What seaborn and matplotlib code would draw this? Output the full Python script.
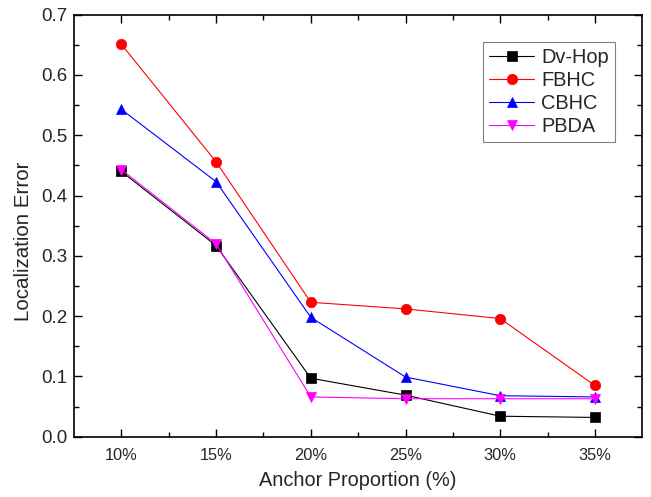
import matplotlib
matplotlib.use("Agg")
import matplotlib.pyplot as plt
import seaborn as sns
import pandas as pd
from matplotlib.ticker import MultipleLocator, FixedLocator

proportions = [10, 15, 20, 25, 30, 35]
tick_labels = ["10%", "15%", "20%", "25%", "30%", "35%"]
dv_hop = [0.440, 0.317, 0.097, 0.069, 0.034, 0.032]
fbhc = [0.651, 0.456, 0.223, 0.212, 0.196, 0.085]
cbhc = [0.543, 0.423, 0.198, 0.099, 0.068, 0.066]
pbda = [0.443, 0.320, 0.066, 0.063, 0.063, 0.063]

series = [("Dv-Hop", dv_hop, "black", "s"),
          ("FBHC", fbhc, "red", "o"),
          ("CBHC", cbhc, "blue", "^"),
          ("PBDA", pbda, "magenta", "v")]

sns.set_style("white")
plt.rcParams['font.family'] = ['Liberation Sans', 'DejaVu Sans']

fig = plt.figure(figsize=(6.51, 4.97), dpi=100)
ax = fig.add_axes([0.1137, 0.1213, 0.8729, 0.8491])

for name, vals, col, mk in series:
    df = pd.DataFrame({"x": proportions, "y": vals})
    sns.lineplot(data=df, x="x", y="y", ax=ax, color=col, marker=mk,
                 markersize=7.5, markeredgewidth=0.5, markeredgecolor=col,
                 linewidth=0.8, label=name)

ax.set_xlim(7.5, 37.5)
ax.set_ylim(0, 0.7)
ax.set_xticks(proportions)
ax.set_xticklabels(tick_labels)
ax.xaxis.set_minor_locator(FixedLocator([12.5, 17.5, 22.5, 27.5, 32.5]))
ax.yaxis.set_major_locator(MultipleLocator(0.1))
ax.yaxis.set_minor_locator(MultipleLocator(0.05))
ax.yaxis.set_major_formatter(matplotlib.ticker.FormatStrFormatter('%.1f'))
ax.tick_params(which='both', direction='in', top=True, right=True,
               bottom=True, left=True, color='black')
ax.tick_params(which='major', length=6, width=1)
ax.tick_params(which='minor', length=3.5, width=1)
ax.tick_params(axis='x', which='major', labelsize=11.8, pad=8)
ax.tick_params(axis='y', which='major', labelsize=13.5, pad=5)
for s in ax.spines.values():
    s.set_color('black')
    s.set_linewidth(1.2)

ax.set_xlabel("Anchor Proportion (%)", fontsize=14.3, labelpad=6)
ax.set_ylabel("Localization Error", fontsize=14.8)
ax.yaxis.set_label_coords(-0.073, 0.464)

leg = ax.legend(loc='upper left', bbox_to_anchor=(0.72, 0.935), fontsize=14.4,
                frameon=True, fancybox=False, edgecolor='gray', framealpha=1,
                handlelength=2.25, borderpad=0.3, labelspacing=0.2,
                handletextpad=0.35, borderaxespad=0)
leg.get_frame().set_linewidth(0.8)

fig.savefig("out.png", dpi=100)
